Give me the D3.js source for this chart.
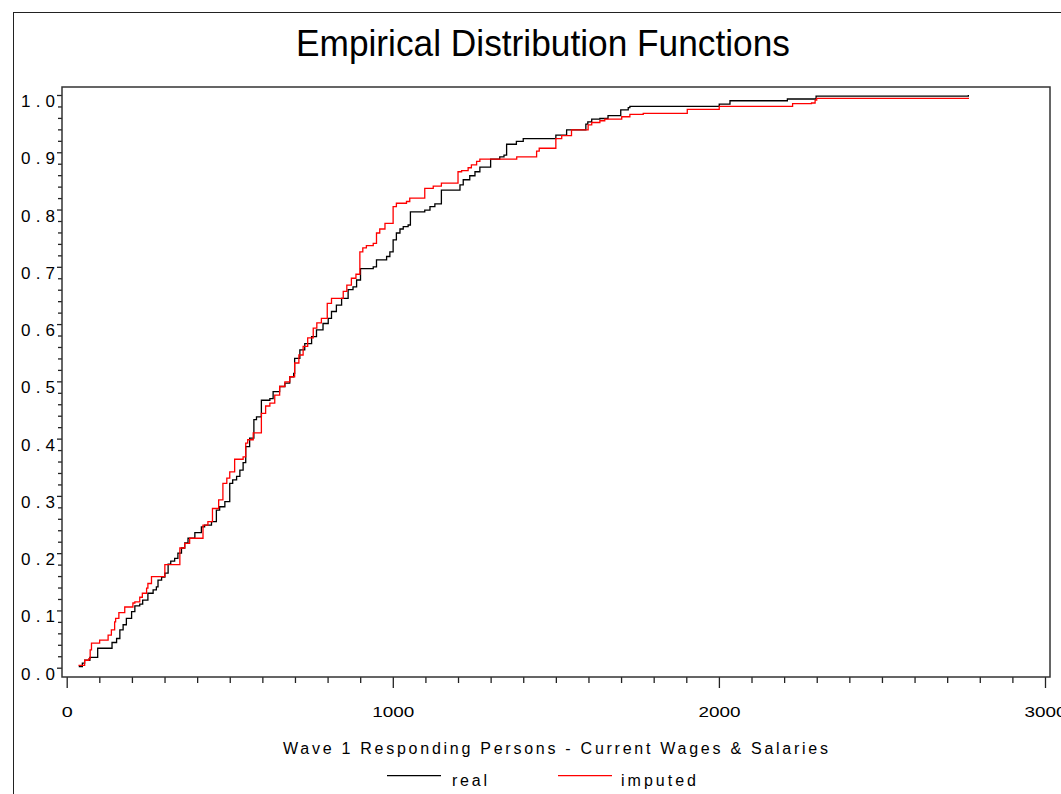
<!DOCTYPE html>
<html>
<head>
<meta charset="utf-8">
<script src="https://cdn.jsdelivr.net/npm/d3@7"></script>
<style>
  body { margin: 0; background: #fff; }
  svg { display: block; }
</style>
</head>
<body>
<svg width="1061" height="794"></svg>
<script>
// Empirical distribution functions
const realWage = [37, 48, 55, 71, 95, 139, 153, 163, 173, 183, 199, 209, 224, 233, 249, 265, 275, 280, 291, 301,
  311, 319, 331, 341, 352, 362, 372, 393, 413, 423, 444, 459, 469, 485, 500, 509, 521, 531, 541, 549,
  561, 574, 582, 597, 623, 633, 653, 669, 684, 696, 699, 715, 730, 751, 766, 786, 802, 812, 827, 843,
  863, 878, 889, 901, 940, 950, 981, 991, 1001, 1011, 1022, 1032, 1047, 1054, 1098, 1114, 1129, 1149, 1206, 1216,
  1236, 1252, 1267, 1300, 1328, 1341, 1349, 1379, 1400, 1500, 1533, 1592, 1598, 1610, 1635, 1660, 1699, 1722, 1727, 2001,
  2034, 2210, 2298, 2765];
const realCdf = [0.002, 0.008, 0.013, 0.018, 0.034, 0.044, 0.051, 0.066, 0.075, 0.086, 0.098, 0.108, 0.111, 0.118, 0.130, 0.136, 0.141, 0.153, 0.158, 0.165,
  0.181, 0.186, 0.191, 0.200, 0.209, 0.218, 0.226, 0.236, 0.246, 0.249, 0.255, 0.275, 0.281, 0.290, 0.322, 0.328, 0.334, 0.345, 0.358, 0.386,
  0.401, 0.433, 0.438, 0.467, 0.470, 0.482, 0.491, 0.497, 0.508, 0.514, 0.540, 0.555, 0.566, 0.578, 0.590, 0.601, 0.610, 0.622, 0.633, 0.645,
  0.660, 0.665, 0.677, 0.697, 0.700, 0.712, 0.718, 0.726, 0.747, 0.759, 0.766, 0.770, 0.773, 0.796, 0.799, 0.805, 0.810, 0.834, 0.843, 0.852,
  0.859, 0.866, 0.874, 0.888, 0.892, 0.895, 0.914, 0.919, 0.924, 0.930, 0.939, 0.949, 0.953, 0.958, 0.959, 0.964, 0.974, 0.978, 0.980, 0.984,
  0.990, 0.993, 0.998, 1.000];

const impWage = [36, 55, 68, 72, 76, 101, 127, 137, 147, 150, 160, 178, 203, 209, 224, 232, 245, 249, 260, 301,
  347, 362, 377, 418, 433, 447, 466, 479, 491, 500, 515, 541, 549, 555, 572, 597, 610, 623, 638, 653,
  669, 684, 699, 712, 725, 739, 756, 767, 781, 799, 812, 848, 859, 873, 887, 899, 908, 919, 940, 950,
  960, 976, 1001, 1011, 1042, 1052, 1098, 1124, 1149, 1200, 1211, 1231, 1241, 1257, 1267, 1380, 1441, 1449, 1500, 1518,
  1548, 1599, 1610, 1635, 1650, 1702, 1727, 1768, 1903, 2001, 2226, 2284, 2295, 2300, 2765];
const impCdf = [0.004, 0.013, 0.016, 0.031, 0.043, 0.048, 0.057, 0.066, 0.080, 0.086, 0.096, 0.106, 0.113, 0.115, 0.123, 0.130, 0.139, 0.147, 0.159, 0.180,
  0.209, 0.217, 0.226, 0.249, 0.255, 0.278, 0.293, 0.322, 0.331, 0.342, 0.364, 0.368, 0.392, 0.398, 0.410, 0.444, 0.457, 0.462, 0.476, 0.491,
  0.499, 0.508, 0.532, 0.546, 0.561, 0.576, 0.593, 0.602, 0.610, 0.636, 0.645, 0.657, 0.668, 0.680, 0.687, 0.726, 0.733, 0.737, 0.741, 0.759,
  0.766, 0.776, 0.805, 0.811, 0.814, 0.820, 0.837, 0.841, 0.846, 0.866, 0.868, 0.873, 0.878, 0.884, 0.888, 0.892, 0.902, 0.907, 0.924, 0.929,
  0.939, 0.948, 0.952, 0.955, 0.958, 0.962, 0.966, 0.968, 0.975, 0.980, 0.985, 0.986, 0.991, 0.994, 0.995];

const xMajor = [0, 1000, 2000, 3000];
const yMajor = [0, 0.1, 0.2, 0.3, 0.4, 0.5, 0.6, 0.7, 0.8, 0.9, 1.0];

const font = "'Liberation Sans', Arial, sans-serif";
const svg = d3.select("svg");

// frame of plot area
const frame = {left: 62, top: 87, right: 1050, bottom: 677};

const x = d3.scaleLinear().domain([0, 3000]).range([66.7, 1045]);
const y = d3.scaleLinear().domain([0, 1]).range([667.7, 95]);

// outer page border
svg.append("rect")
    .attr("x", 13.5).attr("y", 12.5)
    .attr("width", 1200).attr("height", 1000)
    .attr("fill", "none").attr("stroke", "#222").attr("stroke-width", 1);

// title
svg.append("text")
    .attr("x", 543).attr("y", 56)
    .attr("text-anchor", "middle")
    .attr("font-family", font).attr("font-size", 36)
    .attr("textLength", 494).attr("lengthAdjust", "spacingAndGlyphs")
    .text("Empirical Distribution Functions");

// x axis: minor ticks then major ticks
const xMinor = d3.range(100, 3000, 100).filter(v => v % 1000 !== 0);
const xAxisMinor = svg.append("g")
    .attr("transform", `translate(0, ${frame.bottom})`)
    .call(d3.axisBottom(x).tickValues(xMinor).tickSize(6).tickFormat(""));
const xAxis = svg.append("g")
    .attr("transform", `translate(0, ${frame.bottom})`)
    .call(d3.axisBottom(x).tickValues(xMajor).tickSize(11).tickPadding(0).tickFormat(d3.format("d")));
xAxis.selectAll("text")
    .attr("y", 40).attr("dy", 0)
    .attr("font-family", font).attr("font-size", 15.5).attr("fill", "#000")
    .attr("textLength", d => d === 0 ? 11 : 42).attr("lengthAdjust", "spacingAndGlyphs");

// y axis
const yMinor = d3.range(0, 51).map(i => i / 50).filter(v => Math.round(v * 50) % 5 !== 0);
const yAxisMinor = svg.append("g")
    .attr("transform", `translate(${frame.left}, 0)`)
    .call(d3.axisLeft(y).tickValues(yMinor).tickSize(4).tickFormat(""));
const yAxis = svg.append("g")
    .attr("transform", `translate(${frame.left}, 0)`)
    .call(d3.axisLeft(y).tickValues(yMajor).tickSize(5).tickPadding(0).tickFormat(d3.format(".1f")));
yAxis.selectAll("text")
    .attr("x", -7).attr("y", 11.5).attr("dy", 0)
    .attr("font-family", font).attr("font-size", 17).attr("fill", "#000")
    .attr("textLength", 34).attr("lengthAdjust", "spacing");

[xAxisMinor, xAxis, yAxisMinor, yAxis].forEach(g => {
  g.select(".domain").remove();
  g.selectAll("line").attr("stroke", "#222").attr("stroke-width", 1.3);
});

// plot frame
svg.append("rect")
    .attr("x", frame.left).attr("y", frame.top)
    .attr("width", frame.right - frame.left).attr("height", frame.bottom - frame.top)
    .attr("fill", "none").attr("stroke", "#333").attr("stroke-width", 1.5);

// step lines
const line = d3.line()
    .x(d => x(d[0]))
    .y(d => y(d[1]))
    .curve(d3.curveStepAfter);

svg.append("path")
    .datum(realWage.map((w, i) => [w, realCdf[i]]))
    .attr("d", line)
    .attr("fill", "none").attr("stroke", "#000").attr("stroke-width", 1.3);

svg.append("path")
    .datum(impWage.map((w, i) => [w, impCdf[i]]))
    .attr("d", line)
    .attr("fill", "none").attr("stroke", "#ff0000").attr("stroke-width", 1.3);

// axis title
svg.append("text")
    .attr("x", 555.5).attr("y", 754)
    .attr("text-anchor", "middle")
    .attr("font-family", font).attr("font-size", 16)
    .attr("textLength", 545).attr("lengthAdjust", "spacing")
    .text("Wave 1 Responding Persons - Current Wages & Salaries");

// legend
const legend = [
  {label: "real", color: "#000", x0: 387, x1: 441, tx: 452, tw: 35},
  {label: "imputed", color: "#ff0000", x0: 558, x1: 612, tx: 621, tw: 75}
];
legend.forEach(d => {
  svg.append("line")
      .attr("x1", d.x0).attr("x2", d.x1)
      .attr("y1", 775.7).attr("y2", 775.7)
      .attr("stroke", d.color).attr("stroke-width", 1.3);
  svg.append("text")
      .attr("x", d.tx).attr("y", 786)
      .attr("font-family", font).attr("font-size", 16)
      .attr("textLength", d.tw).attr("lengthAdjust", "spacing")
      .text(d.label);
});
</script>
</body>
</html>
